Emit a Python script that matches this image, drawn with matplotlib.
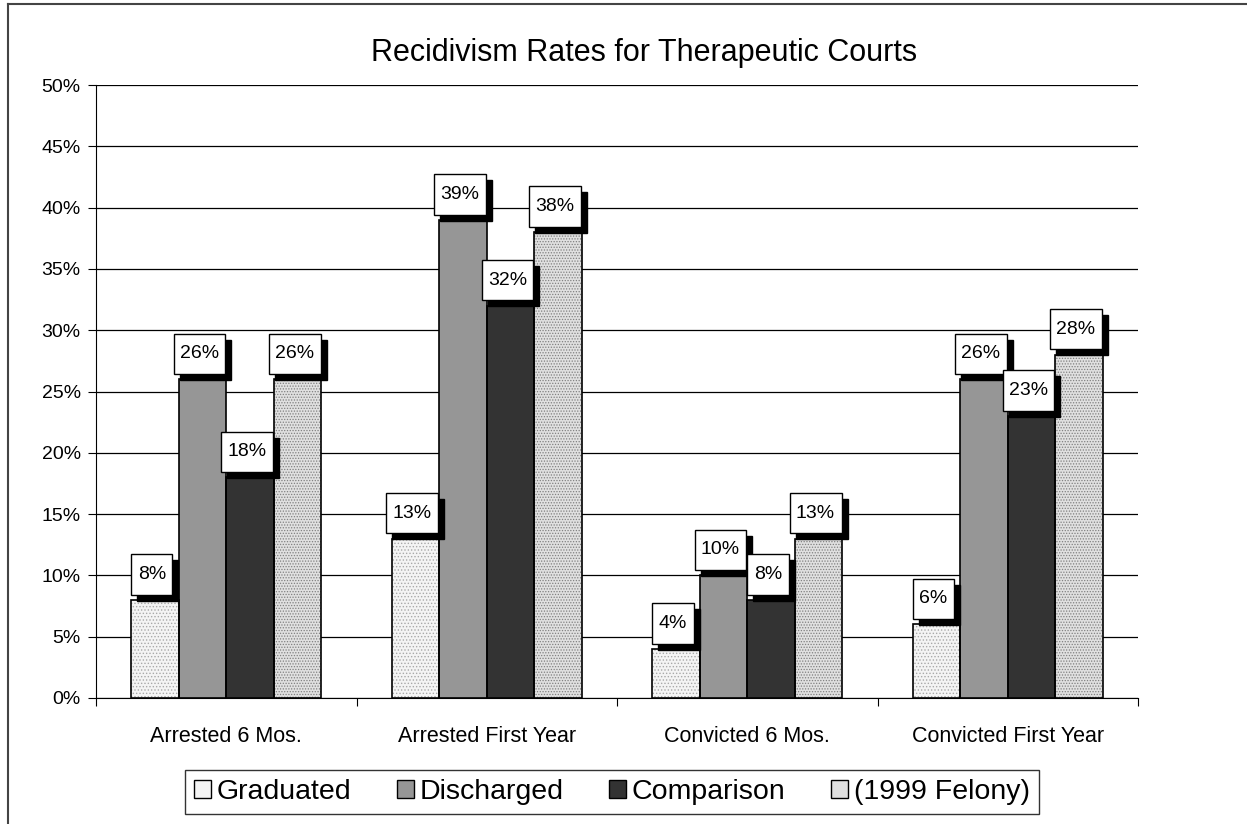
import matplotlib.pyplot as plt
import numpy as np
from matplotlib.lines import Line2D
from matplotlib.patches import Patch
from matplotlib.path import Path

plt.rcParams['font.family'] = ['Liberation Sans', 'DejaVu Sans']

# data
categories = ['Arrested 6 Mos.', 'Arrested First Year', 'Convicted 6 Mos.', 'Convicted First Year']
series_names = ['Graduated', 'Discharged', 'Comparison', '(1999 Felony)']
graduated = [8, 13, 4, 6]
discharged = [26, 39, 10, 26]
comparison = [18, 32, 8, 23]
felony = [26, 38, 13, 28]
yticks = [0, 5, 10, 15, 20, 25, 30, 35, 40, 45, 50]

series = [graduated, discharged, comparison, felony]
# face colour, hatch, hatch colour
styles = [('#f4f4f4', '.....', '#a8a8a8'),
          ('#969696', None, None),
          ('#333333', None, None),
          ('#e0e0e0', '......', '#808080')]


# label box: a bit more padding top/bottom than left/right
def label_box(x0, y0, width, height, mutation_size):
    hp = 0.33 * mutation_size
    vp = 0.6 * mutation_size
    x0, y0 = x0 - hp, y0 - vp
    x1, y1 = x0 + width + 2 * hp, y0 + height + 2 * vp
    return Path([(x0, y0), (x1, y0), (x1, y1), (x0, y1), (x0, y0)], closed=True)


fig = plt.figure(figsize=(12.47, 8.24), dpi=100)
ax = fig.add_axes([96/1247, 1-698/824, (1138-96)/1247, (698-85)/824])

x = np.arange(len(categories))
w = 0.1825
offsets = [-1.5*w, -0.5*w, 0.5*w, 1.5*w]

plt.rcParams['hatch.linewidth'] = 0.6
for vals, off, (fc, hatch, hc) in zip(series, offsets, styles):
    if hatch:
        ax.bar(x + off, vals, w, color=fc, hatch=hatch, edgecolor=hc, linewidth=0, zorder=2)
    else:
        ax.bar(x + off, vals, w, color=fc, linewidth=0, zorder=2)
    ax.bar(x + off, vals, w, fill=False, edgecolor='black', linewidth=1.2, zorder=3)

# data labels: white box with black drop shadow
for vals, off in zip(series, offsets):
    for xi, v in zip(x, vals):
        lbl = f'{v}%'
        ax.annotate(lbl, (xi + off, v), xytext=(3, 11), textcoords='offset pixels',
                    ha='center', va='bottom', fontsize=14, color='black', zorder=4,
                    bbox=dict(boxstyle=label_box, fc='black', ec='black', lw=1))
        ax.annotate(lbl, (xi + off, v), xytext=(-3, 17), textcoords='offset pixels',
                    ha='center', va='bottom', fontsize=14, color='black', zorder=5,
                    bbox=dict(boxstyle=label_box, fc='white', ec='black', lw=1))

ax.set_xlim(-0.5, 3.5)
ax.set_ylim(0, 50)
ax.set_yticks(yticks)
ax.set_yticklabels([f'{t}%' for t in yticks], fontsize=14)
ax.yaxis.grid(True, color='black', linewidth=0.9, zorder=0)
ax.set_axisbelow(True)

ax.set_xticks(np.arange(-0.5, 4, 1))
ax.set_xticklabels([])
ax.set_xticks(x, minor=True)
ax.set_xticklabels(categories, minor=True, fontsize=15.5)
ax.tick_params(axis='x', which='minor', length=0, pad=20)
ax.tick_params(axis='x', which='major', length=6, direction='out')
ax.tick_params(axis='y', length=6, direction='out', pad=5)

for s in ['top', 'right']:
    ax.spines[s].set_visible(False)

fig.text(644/1247, 1-53/824, 'Recidivism Rates for Therapeutic Courts',
         ha='center', va='center', fontsize=22)

handles = []
for name, (fc, hatch, hc) in zip(series_names, styles):
    handles.append(Patch(facecolor=fc, edgecolor='black', label=name))
leg = fig.legend(handles=handles, loc='center', ncol=4,
                 bbox_to_anchor=(612/1247, 1-792/824), fontsize=20.5,
                 frameon=True, fancybox=False, edgecolor='black',
                 handlelength=0.6, handleheight=0.6, handletextpad=0.2,
                 columnspacing=1.6, borderpad=0.3, borderaxespad=0)
leg.get_frame().set_linewidth(1)

# page frame lines
fig.add_artist(Line2D([8/1247, 1], [1-4/824, 1-4/824], color='#444444', linewidth=1.5))
fig.add_artist(Line2D([8/1247, 8/1247], [0, 1-4/824], color='#444444', linewidth=1.5))

fig.savefig('out.png', dpi=100)
